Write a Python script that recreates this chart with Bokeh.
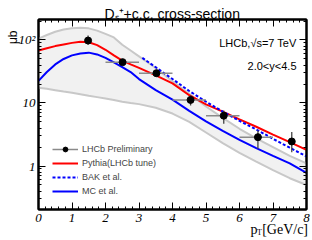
import math
from bokeh.plotting import figure
from bokeh.models import (Range1d, LinearAxis, LogAxis, FixedTicker, Label,
                          Legend, LegendItem, ColumnDataSource)
from bokeh.embed import file_html
from bokeh.resources import INLINE

# ---------------- data ----------------
pt_grid = [0, 0.25, 0.5, 0.75, 1.0, 1.25, 1.5, 1.75, 2.0, 2.25, 2.5, 2.75,
           3.0, 3.5, 4.0, 4.5, 5.0, 5.5, 6.0, 6.5, 7.0, 7.5, 8.0]
pythia = [68, 74, 80, 85, 90, 94, 92, 83, 70, 57, 47, 41,
          36, 27.5, 20.5, 13.3, 9.5, 7.3, 5.5, 4.2, 3.15, 2.4, 1.8]
mc = [22.5, 31, 41, 50, 57, 61, 63, 59, 52, 44, 37, 31,
      24, 16, 11.3, 7.5, 5.1, 3.6, 2.6, 1.92, 1.45, 1.1, 0.78]
band_hi = [105, 120, 135, 147, 153, 156, 153, 141, 125, 110, 84, 68,
           55, 36, 22, 14, 8.8, 5.8, 3.9, 2.75, 2.0, 1.45, 1.1]
band_lo = [17.5, 16.8, 16, 15.2, 14.5, 13.8, 13, 12.4, 11.8, 11.2, 10.5, 10.0,
           9.6, 8.4, 6.8, 5.0, 3.4, 2.3, 1.62, 1.17, 0.86, 0.64, 0.50]
bak_pt = [3.1, 3.5, 4.0, 4.5, 5.0, 5.5, 6.0, 6.5, 7.0, 7.5, 8.0]
bak = [52, 37, 24, 15.5, 10.5, 7.3, 5.2, 3.8, 2.7, 1.95, 1.42]

lhcb_pt = [1.48, 2.51, 3.52, 4.54, 5.53, 6.55, 7.56]
lhcb_val = [98, 44.5, 29.7, 11.2, 6.3, 2.87, 2.45]
lhcb_lo = [84, 40.5, 27, 9.1, 4.7, 1.88, 1.66]
lhcb_hi = [118, 49, 32.5, 13.3, 7.6, 3.65, 3.45]
lhcb_ptlo = [1.48, 2.0, 3.0, 4.0, 5.0, 6.0, 7.56]
lhcb_pthi = [1.48, 3.0, 4.0, 5.0, 6.0, 7.0, 7.56]

x_ticks = [0, 1, 2, 3, 4, 5, 6, 7, 8]
y_ticks = [1, 10, 100]
y_tick_labels = {1: "1", 10: "10", 100: "10²"}
legend_labels = ["LHCb Preliminary", "Pythia(LHCb tune)", "BAK et al.", "MC et al."]

W, H = 312, 240

# ---------------- figure ----------------
p = figure(width=W, height=H, x_range=Range1d(0, 8),
           y_range=Range1d(0.204, 211.5), y_axis_type="log",
           output_backend="svg", toolbar_location=None,
           min_border_left=38, min_border_right=6,
           min_border_top=19, min_border_bottom=31)
p.xgrid.visible = False
p.ygrid.visible = False
p.outline_line_color = "black"
p.outline_line_width = 2
p.background_fill_color = "white"
p.border_fill_color = "white"

x_minor = [i * 0.2 for i in range(0, 41)]
y_minor = [m * 10 ** e for e in (-1, 0, 1, 2) for m in range(2, 10)]

def style_axis(ax):
    ax.axis_line_color = "black"
    ax.axis_line_width = 2
    ax.major_tick_in = 7
    ax.major_tick_out = 0
    ax.minor_tick_in = 3
    ax.minor_tick_out = 0
    ax.major_tick_line_color = "black"
    ax.minor_tick_line_color = "black"
    ax.major_tick_line_width = 1
    ax.minor_tick_line_width = 1
    ax.major_label_text_font = "Liberation Serif"
    ax.major_label_text_font_style = "italic"
    ax.major_label_text_font_size = "13px"
    ax.major_label_text_color = "black"
    ax.major_label_standoff = 4

xa = p.xaxis[0]
xa.ticker = FixedTicker(ticks=x_ticks, minor_ticks=x_minor)
style_axis(xa)
ya = p.yaxis[0]
ya.ticker = FixedTicker(ticks=y_ticks, minor_ticks=y_minor)
ya.major_label_overrides = y_tick_labels
style_axis(ya)
ya.major_label_standoff = 3

top = LinearAxis(ticker=FixedTicker(ticks=x_ticks, minor_ticks=x_minor),
                 major_label_overrides={t: "" for t in x_ticks})
style_axis(top)
top.major_label_standoff = 0
p.add_layout(top, "above")
right = LogAxis(ticker=FixedTicker(ticks=y_ticks, minor_ticks=y_minor),
                major_label_overrides={t: "" for t in y_ticks})
style_axis(right)
right.major_label_standoff = 0
p.add_layout(right, "right")

# ---------------- glyphs ----------------
p.varea(x=pt_grid, y1=band_lo, y2=band_hi, fill_color="#f1f1f1")
p.line(pt_grid, band_hi, line_color="#c8c8c8", line_width=2)
p.line(pt_grid, band_lo, line_color="#c8c8c8", line_width=2)

r_py = p.line(pt_grid, pythia, line_color="#ff0000", line_width=2)
r_bak = p.line(bak_pt, bak, line_color="#0000ff", line_width=2, line_dash="3 2")
r_mc = p.line(pt_grid, mc, line_color="#0000ff", line_width=2)

src = ColumnDataSource(dict(x=lhcb_pt, y=lhcb_val, lo=lhcb_lo, hi=lhcb_hi,
                            xlo=lhcb_ptlo, xhi=lhcb_pthi))
r_xerr = p.segment(x0="xlo", y0="y", x1="xhi", y1="y", source=src,
                   line_color="#8a8a8a", line_width=1.5)
p.segment(x0="x", y0="lo", x1="x", y1="hi", source=src,
          line_color="#444444", line_width=1.3)
r_pts = p.scatter("x", "y", source=src, size=7, marker="circle",
                  fill_color="black", line_color="black")

legend = Legend(items=[
    LegendItem(label=legend_labels[0], renderers=[r_xerr, r_pts]),
    LegendItem(label=legend_labels[1], renderers=[r_py]),
    LegendItem(label=legend_labels[2], renderers=[r_bak]),
    LegendItem(label=legend_labels[3], renderers=[r_mc]),
], location=(14, 12), glyph_width=26, glyph_height=12, label_height=12,
   spacing=2, padding=0, margin=0, label_standoff=4,
   label_text_font="Liberation Sans", label_text_font_size="9px",
   border_line_color=None, background_fill_alpha=0)
p.add_layout(legend)

# ---------------- texts (canvas pixel positions, y from top) ----------------
sans = "Liberation Sans"
serif = "Liberation Serif"

def lab(text, px, py, size, font=sans, align="left", angle=0, place=None):
    l = Label(x=px, y=py, x_units="canvas", y_units="canvas",
              text=text, text_font=font,
              text_font_size=size, text_align=align,
              text_baseline="alphabetic", angle=angle,
              text_color="black")
    if place is None:
        p.add_layout(l)
    else:
        p.add_layout(l, place)

# title  D_s^+ + c.c. cross-section
lab("D\u209b\u207a+c.c. cross-section", 104, 13, "14px", place="above")
# y axis title
lab("μb", 12, 30, "12px", align="right", angle=math.pi / 2, place="left")
# x axis title  p_T [GeV/c]
lab("p\u2004[GeV/c]", 250, 229, "14px", font=serif, place="below")
lab("T", 256.5, 232, "8px", font=serif, place="right")
# annotations inside the frame
lab("LHCb,√s=7 TeV", 296, 42, "11px", align="right")
lab("2.0<y<4.5", 296, 65, "11px", align="right")

open("out.html", "w").write(file_html(p, INLINE))
